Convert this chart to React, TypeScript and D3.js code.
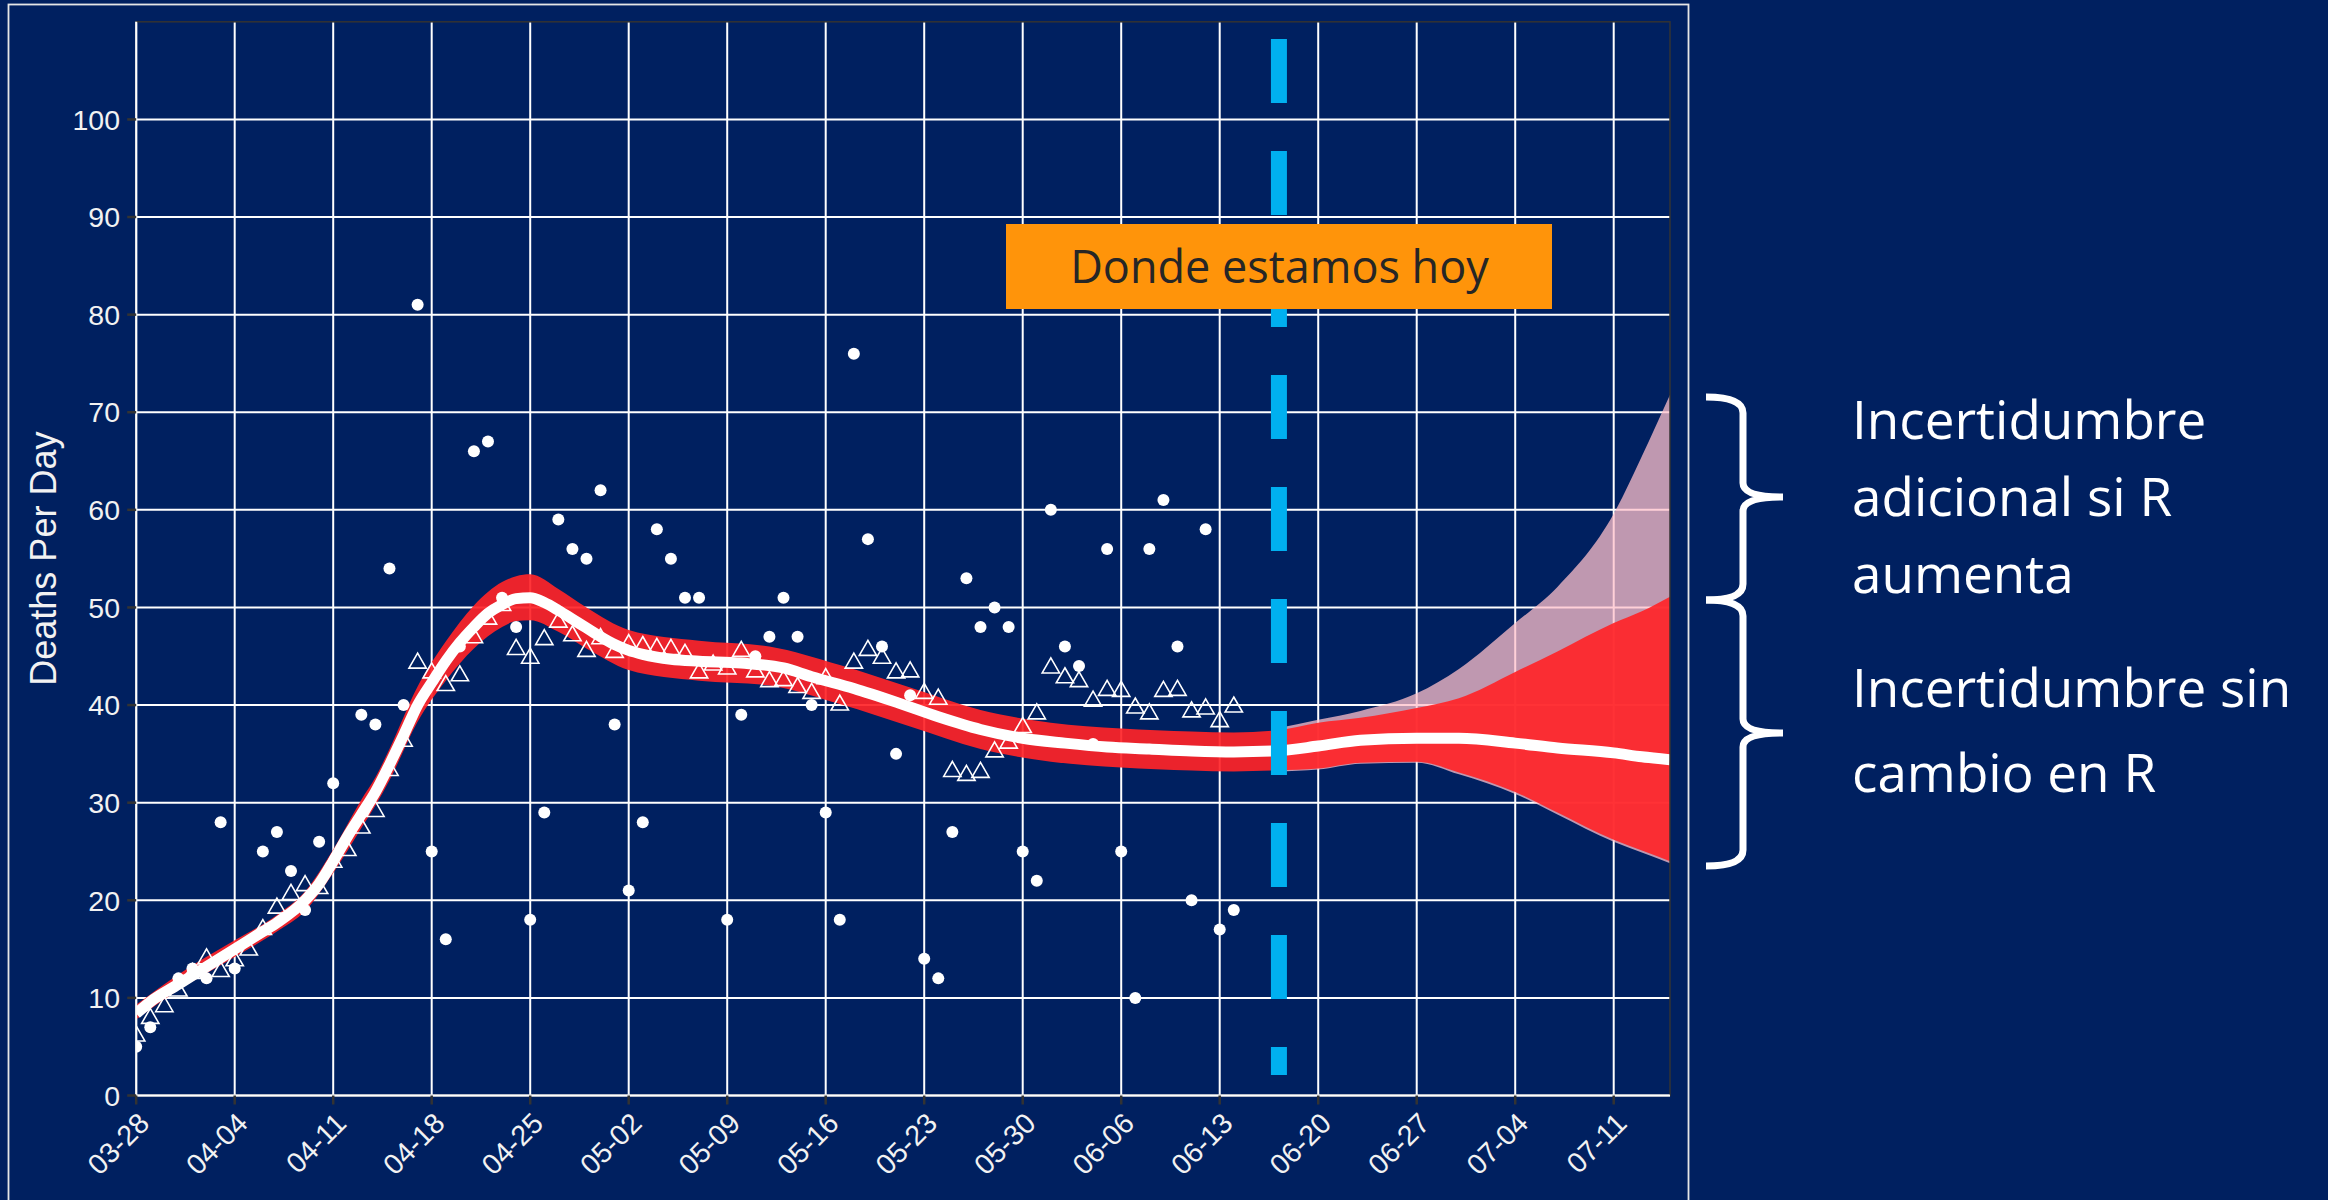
import React from "react";
import * as d3 from "d3";

const W = 2328;
const H = 1200;
const YEAR = 2020;
const START = "2020-03-28";
const END = "2020-07-15";
const TODAY = "2020-06-17T05:00:00Z";

const X_TICKS = ["03-28","04-04","04-11","04-18","04-25","05-02","05-09","05-16","05-23","05-30","06-06","06-13","06-20","06-27","07-04","07-11"];
const Y_TICKS = [0,10,20,30,40,50,60,70,80,90,100];

// daily deaths (filled dots), one per day from 03-28
const DEATHS = [5,7,null,12,13,12,28,13,null,25,27,23,19,26,32,null,39,38,54,40,81,25,16,46,66,67,51,48,18,29,59,56,55,62,38,21,28,58,55,51,51,null,18,39,45,47,51,47,40,29,18,76,57,46,35,41,14,12,27,53,48,50,48,25,22,60,46,44,36,56,25,10,56,61,46,20,58,17,19];
// open triangles, one per day from 03-28
const TRIANGLES = [6.1,7.9,9.1,10.7,12.5,14.0,12.7,13.8,14.9,17.0,19.2,20.6,21.5,21.2,23.9,25.1,27.4,29.1,33.3,36.3,44.3,43.3,42.0,43.0,46.9,48.8,50.2,45.7,44.8,46.7,48.5,47.1,45.5,46.8,45.4,46.2,46.0,45.8,45.7,45.2,43.3,44.1,43.7,45.5,43.4,42.4,42.5,41.8,41.2,42.7,40.0,44.3,45.6,44.8,43.3,43.4,41.2,40.6,33.2,32.8,33.1,35.2,36.1,37.7,39.1,43.8,42.8,42.4,40.4,41.5,41.4,39.7,39.1,41.4,41.5,39.3,39.6,38.3,39.8];

// model fit (white line), day offset from 03-28
const FIT_DAY = [0,1,3,5,7,9,10,12,13,14,15,16,17,18,19,20,21,22,23,24,25,26,27,28,29,30,31,32,33,34,35,36,38,40,43,46,48,51,54,57,60,63,66,69,72,75,78,81,84,87,91,94,98,101,105,107,109];
const FIT_MID = [8.4,9.6,11.4,13.2,15.0,16.8,17.7,20.0,21.7,24.0,26.5,28.8,31.1,33.9,36.9,40.0,42.3,44.5,46.4,48.0,49.4,50.3,50.9,51.0,50.5,49.7,48.8,47.9,47.0,46.2,45.6,45.2,44.7,44.5,44.3,43.8,42.9,41.7,40.3,38.8,37.5,36.6,36.1,35.7,35.5,35.3,35.2,35.3,35.8,36.4,36.6,36.6,36.1,35.6,35.1,34.7,34.4];

// red uncertainty band
const BAND_DAY = [0,3,7,10,12,14,16,17,18,20,22,24,26,27,28,30,32,35,40,45,50,55,60,65,70,75,78,81,84,87,91,94,98,101,105,107,109];
const BAND_LO = [7.8,10.8,14.2,16.8,18.9,22.8,27.4,29.7,32.3,38.3,42.5,45.8,48.0,48.6,48.7,47.5,45.8,43.6,42.5,42.0,40.1,37.8,35.5,34.2,33.6,33.3,33.2,33.3,33.5,34.1,34.2,33.1,31.1,29.0,26.2,25.1,24.0];
const BAND_HI = [9.3,12.4,15.9,18.5,20.9,25.2,30.3,32.6,35.5,41.9,46.5,50.2,52.6,53.2,53.4,51.9,50.0,47.7,46.6,46.0,44.1,41.8,39.5,38.2,37.6,37.3,37.2,37.4,38.2,38.7,39.7,40.7,43.4,45.5,48.4,49.6,51.1];

// pink band (if R increases)
const PINK_DAY = [81,84,87,91,94,98,101,105,107,109];
const PINK_LO = [33.2,33.4,34.0,34.1,32.9,30.9,28.8,26.0,24.9,23.8];
const PINK_HI = [37.6,38.5,39.4,41.2,43.7,48.4,52.1,59.6,65.5,71.8];

const NOTE_TOP = ["Incertidumbre", "adicional si R", "aumenta"];
const NOTE_BOTTOM = ["Incertidumbre sin", "cambio en R"];
const TODAY_LABEL = "Donde estamos hoy";
const Y_TITLE = "Deaths Per Day";

const BG = "#002060";
const AXIS_FONT = "'Liberation Sans', Arial, sans-serif";
const NOTE_FONT = "'Open Sans', 'Noto Sans', sans-serif";

const startDate = new Date(START + "T00:00:00Z");
const dayDate = (d: number) => d3.utcDay.offset(startDate, d);

export default function App() {
  const x = d3.scaleUtc().domain([startDate, new Date(END + "T00:00:00Z")]).range([136.2, 1670]);
  const y = d3.scaleLinear().domain([0, 110]).range([1095.5, 21.8]);
  const [pl, pr] = x.range();
  const [pb, pt] = y.range();

  const band = d3.area<number>()
    .x((i) => x(dayDate(BAND_DAY[i])))
    .y0((i) => y(BAND_LO[i]))
    .y1((i) => y(BAND_HI[i]))
    .curve(d3.curveMonotoneX);
  const pink = d3.area<number>()
    .x((i) => x(dayDate(PINK_DAY[i])))
    .y0((i) => y(PINK_LO[i]))
    .y1((i) => y(PINK_HI[i]))
    .curve(d3.curveMonotoneX);
  const mid = d3.line<number>()
    .x((i) => x(dayDate(FIT_DAY[i])))
    .y((i) => y(FIT_MID[i]))
    .curve(d3.curveMonotoneX);

  const tickDates = X_TICKS.map((t) => new Date(`${YEAR}-${t}T00:00:00Z`));
  const todayX = x(new Date(TODAY));

  const brace = (xl: number, xs: number, xp: number, yt: number, ym: number, yb: number) =>
    `M${xl},${yt} Q${xs},${yt} ${xs},${yt + 16} L${xs},${ym - 14} Q${xs},${ym} ${xp},${ym} ` +
    `M${xp},${ym} Q${xs},${ym} ${xs},${ym + 14} L${xs},${yb - 16} Q${xs},${yb} ${xl},${yb}`;

  const tri = "M0,-10L8.66,5L-8.66,5Z";

  return (
    <svg width={W} height={H} style={{ position: "fixed", left: 0, top: 0, display: "block" }}>
      <rect x={0} y={0} width={W} height={H} fill={BG} />
      <defs>
        <clipPath id="panel">
          <rect x={pl} y={pt} width={pr - pl} height={pb - pt} />
        </clipPath>
      </defs>
      {/* outer frame */}
      <rect x={8.5} y={4.5} width={1680} height={1300} fill="none" stroke="#e6e6e6" strokeWidth={1.8} />

      {/* grid */}
      <g stroke="#ffffff" strokeWidth={2}>
        {Y_TICKS.map((v) => (
          <line key={"gy" + v} x1={pl} x2={pr} y1={y(v)} y2={y(v)} />
        ))}
        {tickDates.map((d, i) => (
          <line key={"gx" + i} x1={x(d)} x2={x(d)} y1={pt} y2={pb} />
        ))}
      </g>

      <g clipPath="url(#panel)">
        <path d={pink(d3.range(PINK_DAY.length)) || ""} fill="rgb(255,192,203)" fillOpacity={0.75} />
        <path d={band(d3.range(BAND_DAY.length)) || ""} fill="rgb(255,36,40)" fillOpacity={0.92} />
        <path d={mid(d3.range(FIT_DAY.length)) || ""} fill="none" stroke="#ffffff" strokeWidth={11} strokeLinejoin="round" />
        {TRIANGLES.map((v, i) =>
          v == null ? null : (
            <path key={"t" + i} d={tri} transform={`translate(${x(dayDate(i))},${y(v)})`} fill="none" stroke="#ffffff" strokeWidth={1.6} />
          )
        )}
        {DEATHS.map((v, i) =>
          v == null ? null : <circle key={"c" + i} cx={x(dayDate(i))} cy={y(v)} r={6} fill="#ffffff" />
        )}
      </g>

      {/* panel border */}
      <rect x={pl} y={pt} width={pr - pl} height={pb - pt} fill="none" stroke="#333333" strokeWidth={1.5} />
      <line x1={pl} x2={pl} y1={pt} y2={pb} stroke="#ffffff" strokeWidth={2} />
      <line x1={pl} x2={pr} y1={pb} y2={pb} stroke="#ffffff" strokeWidth={2} />

      {/* ticks */}
      <g stroke="#333333" strokeWidth={2.5}>
        {Y_TICKS.map((v) => (
          <line key={"ty" + v} x1={pl - 9} x2={pl} y1={y(v)} y2={y(v)} />
        ))}
        {tickDates.map((d, i) => (
          <line key={"tx" + i} x1={x(d)} x2={x(d)} y1={pb} y2={pb + 9} />
        ))}
      </g>
      <g fill="#f2f2f2" fontFamily={AXIS_FONT} fontSize={28.5}>
        {Y_TICKS.map((v) => (
          <text key={"ly" + v} x={120} y={y(v)} dy="0.36em" textAnchor="end">{v}</text>
        ))}
        {tickDates.map((d, i) => (
          <text key={"lx" + i} transform={`translate(${x(d) + 14.8},${1125}) rotate(-45)`} textAnchor="end">{X_TICKS[i]}</text>
        ))}
      </g>
      <text transform={`translate(56,${(pt + pb) / 2}) rotate(-90)`} textAnchor="middle" fill="#f2f2f2" fontFamily={AXIS_FONT} fontSize={36}>{Y_TITLE}</text>

      {/* today line */}
      <line x1={todayX} x2={todayX} y1={39} y2={1075} stroke="#00B0F0" strokeWidth={16} strokeDasharray="64 48" />
      <rect x={1006} y={224} width={546} height={85} fill="#FF940A" />
      <text x={1279.5} y={283.3} textAnchor="middle" fill="#262626" fontFamily={NOTE_FONT} fontSize={45}>{TODAY_LABEL}</text>

      {/* braces + notes */}
      <path d={brace(1706, 1743, 1783, 397, 497, 600)} fill="none" stroke="#ffffff" strokeWidth={7} />
      <path d={brace(1706, 1743, 1783, 600, 733, 866)} fill="none" stroke="#ffffff" strokeWidth={7} />
      <g fill="#ffffff" fontFamily={NOTE_FONT} fontSize={53}>
        {NOTE_TOP.map((t, i) => (
          <text key={"nt" + i} x={1852} y={439 + i * 77}>{t}</text>
        ))}
        {NOTE_BOTTOM.map((t, i) => (
          <text key={"nb" + i} x={1852} y={707 + i * 85}>{t}</text>
        ))}
      </g>
    </svg>
  );
}
